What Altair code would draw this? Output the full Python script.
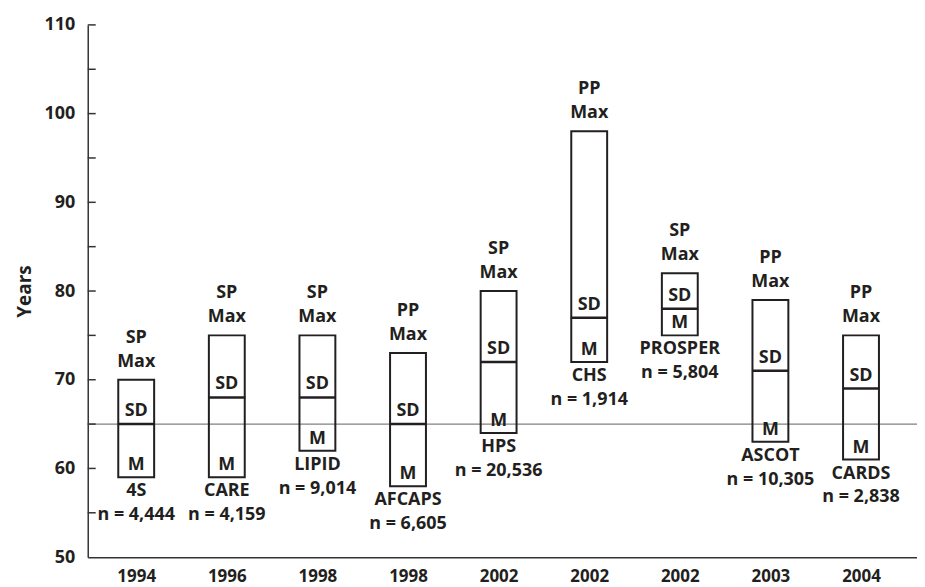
import altair as alt
import pandas as pd

# ---- data ----
years = ["1994", "1996", "1998", "1998", "2002", "2002", "2002", "2003", "2004"]
trials = ["4S", "CARE", "LIPID", "AFCAPS", "HPS", "CHS", "PROSPER", "ASCOT", "CARDS"]
sample_n = [4444, 4159, 9014, 6605, 20536, 1914, 5804, 10305, 2838]
prevention = ["SP", "SP", "SP", "PP", "SP", "PP", "SP", "PP", "PP"]
age_min = [59, 59, 62, 58, 64, 72, 75, 63, 61]
age_mean = [65, 68, 68, 65, 72, 77, 78, 71, 69]
age_max = [70, 75, 75, 73, 80, 98, 82, 79, 75]
reference_age = 65
y_labels = [50, 60, 70, 80, 90, 100, 110]
y_ticks = [55, 60, 65, 70, 75, 80, 85, 90, 95, 100, 105, 110]

df = pd.DataFrame({
    "idx": list(range(len(years))),
    "year": years,
    "trial": trials,
    "n_label": [f"n = {v:,}" for v in sample_n],
    "prev": prevention,
    "low": age_min,
    "mean": age_mean,
    "high": age_max,
})
ticks_df = pd.DataFrame({"v": y_ticks})

INK = "#231f20"
FONT = "Open Sans"

label_expr = "[" + ",".join(f"'{y}'" for y in years) + "][datum.value]"

xscale = alt.Scale(domain=[-0.48, 8.563], nice=False, zero=False)
xaxis = alt.Axis(values=list(range(len(years))), labelExpr=label_expr, title=None,
                 grid=False, ticks=False, tickSize=0, domainColor="#333333",
                 domainWidth=1.5, labelFont=FONT, labelFontWeight="bold",
                 labelFontSize=17, labelBaseline="middle", labelPadding=19,
                 labelColor=INK)
yscale = alt.Scale(domain=[50, 110], nice=False, zero=False)
yaxis = alt.Axis(values=y_labels, title="Years", grid=False, ticks=False, tickSize=0,
                 domainColor="#333333", domainWidth=1.5, labelFont=FONT,
                 labelFontWeight="bold", labelFontSize=18, labelPadding=13,
                 labelColor=INK, titleFont=FONT, titleFontWeight="bold",
                 titleFontSize=19, titleColor=INK, titlePadding=10)


def X():
    return alt.X("idx:Q", scale=xscale, axis=xaxis)


def Y(field):
    return alt.Y(f"{field}:Q", scale=yscale, axis=yaxis)


base = alt.Chart(df)

ref = base.mark_rule(color="#808080", strokeWidth=1.3).encode(
    y=alt.Y("r:Q", scale=yscale, axis=yaxis)
).transform_calculate(r=str(reference_age)).transform_filter("datum.idx == 0")

tick_rules = alt.Chart(ticks_df).mark_rule(color="#333333", strokeWidth=1.5).encode(
    y=alt.Y("v:Q", scale=yscale, axis=yaxis), x=alt.value(0), x2=alt.value(8)
)

boxes = base.mark_bar(size=36, fillOpacity=0, stroke=INK, strokeWidth=2).encode(
    x=X(), y=Y("low"), y2="high:Q"
)
means = base.mark_tick(orient="horizontal", size=37, thickness=2.5, color=INK,
                       opacity=1).encode(x=X(), y=Y("mean"))

txt = dict(font=FONT, fontWeight="bold", fontSize=18, color=INK, baseline="middle",
           align="center")
prev_t = base.mark_text(dy=-42, **txt).encode(x=X(), y=Y("high"), text="prev:N")
max_t = base.mark_text(dy=-18, text="Max", **txt).encode(x=X(), y=Y("high"))
sd_t = base.mark_text(dy=-13, text="SD", **txt).encode(x=X(), y=Y("mean"))
m_t = base.mark_text(dy=-12, text="M", **txt).encode(x=X(), y=Y("low"))
name_t = base.mark_text(dy=14, **txt).encode(x=X(), y=Y("low"), text="trial:N")
n_t = base.mark_text(dy=38, **txt).encode(x=X(), y=Y("low"), text="n_label:N")

chart = alt.layer(ref, tick_rules, boxes, means, prev_t, max_t, sd_t, m_t, name_t, n_t).properties(
    width=832, height=534,
    autosize=alt.AutoSizeParams(type="none"),
    padding={"left": 80, "top": 16, "right": 0, "bottom": 30},
).configure_view(stroke=None)

chart.save("out.html", embed_options={"renderer": "svg", "actions": False})
